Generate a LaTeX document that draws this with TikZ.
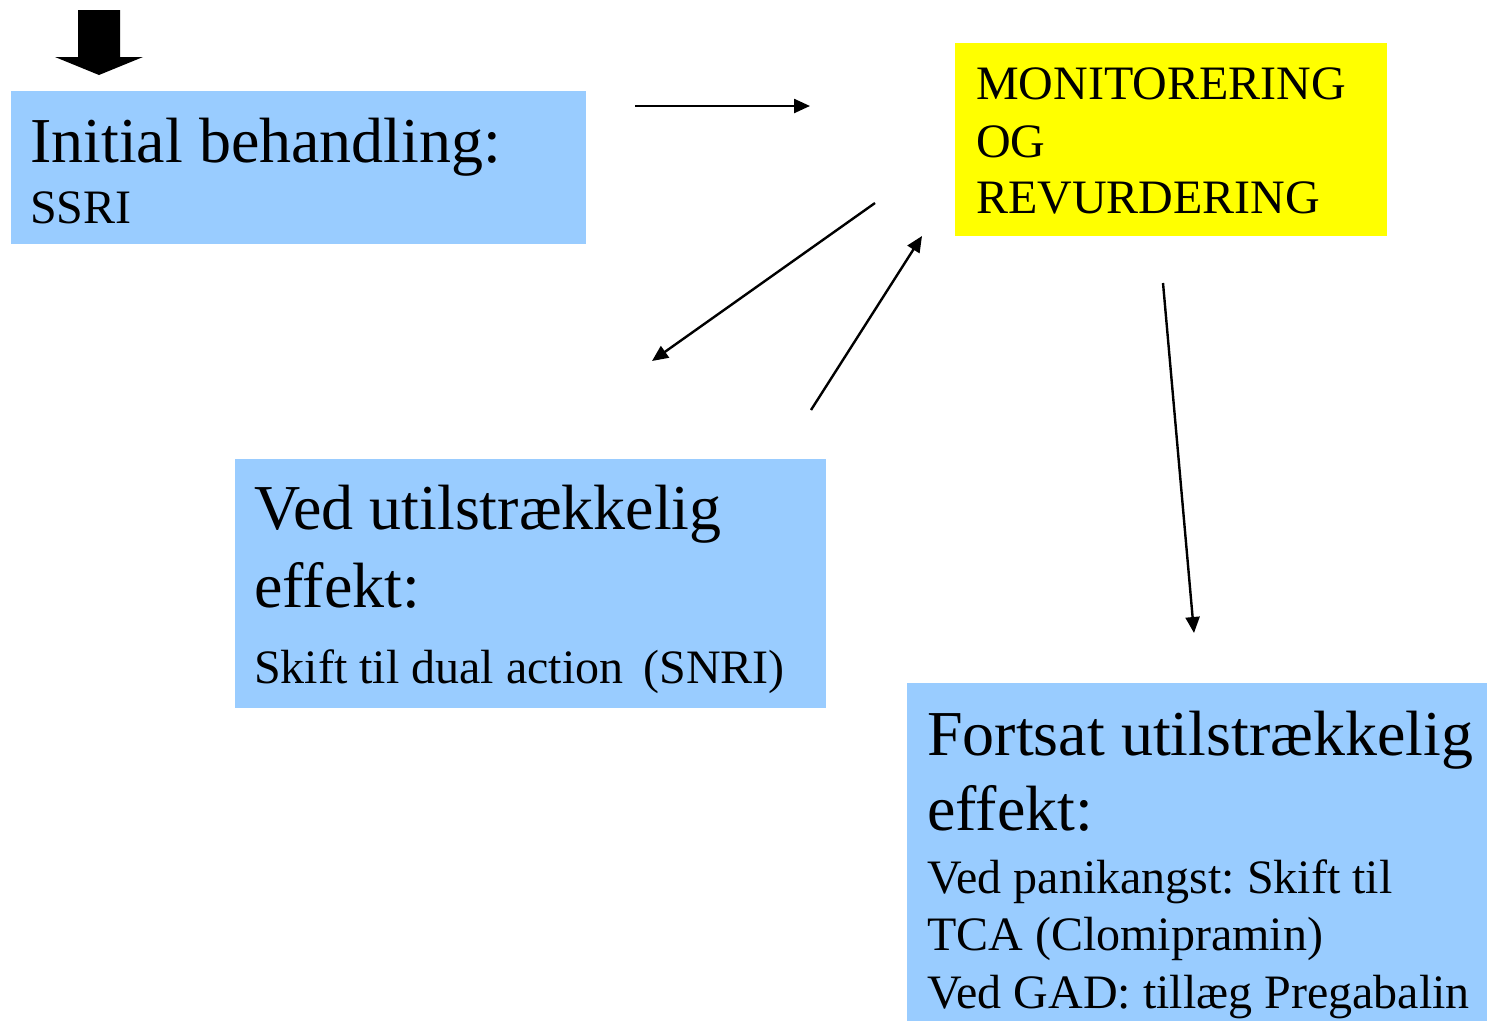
\documentclass[tikz,border=0pt]{standalone}
\usepackage{fontspec}
\setmainfont{Liberation Serif}
\usetikzlibrary{arrows.meta}
\definecolor{boxblue}{HTML}{99CCFF}
\definecolor{boxyellow}{HTML}{FFFF00}
\frenchspacing
\begin{document}
\begin{tikzpicture}[x=1pt,y=-1pt,
  panel/.style={fill=#1, draw=none, inner sep=0pt, anchor=north west},
  big/.style={anchor=base west, inner sep=0pt, font=\fontsize{64}{76}\selectfont},
  small/.style={anchor=base west, inner sep=0pt, font=\fontsize{48}{57}\selectfont},
  link/.style={line width=2.4pt, -{Triangle[length=16pt,width=14pt]}}]
\useasboundingbox (0,0) rectangle (1487,1021);

% entry arrow (block arrow)
\fill[black] (78,10) -- (120,10) -- (120,57) -- (143,57) -- (99,75) -- (55,57) -- (78,57) -- cycle;

% panels
\node[panel=boxblue, minimum width=575pt, minimum height=153pt] (initbox) at (11,91) {};
\node[panel=boxyellow, minimum width=432pt, minimum height=193pt] (monbox) at (955,43) {};
\node[panel=boxblue, minimum width=591pt, minimum height=249pt] (snribox) at (235,459) {};
\node[panel=boxblue, minimum width=580pt, minimum height=338pt] (tcabox) at (907,683) {};

% initial treatment
\node[big] (init1) at (30,162) {Initial behandling:};
\node[small] (init2) at (30,223) {SSRI};

% monitoring
\node[small] (mon1) at (976,99) {MONITORERING};
\node[small] (mon2) at (976,157) {OG};
\node[small] (mon3) at (976,213) {REVURDERING};

% second line
\node[big] (snri1) at (254,529) {Ved utilstrækkelig};
\node[big] (snri2) at (254,607) {effekt:};
\node[small] (snri3) at (254,683) {Skift til dual action\, (SNRI)};

% third line
\node[big] (tca1) at (927,755) {Fortsat utilstrækkelig};
\node[big] (tca2) at (927,830) {effekt:};
\node[small] (tca3) at (927,893) {Ved panikangst: Skift til};
\node[small] (tca4) at (927,950) {TCA (Clomipramin)};
\node[small] (tca5) at (927,1008) {Ved GAD: tillæg Pregabalin};

% connector ends
\coordinate (h1) at (635,106);
\coordinate (h2) at (810,106);
\coordinate (d1) at (875,203);
\coordinate (d2) at (652,361);
\coordinate (u1) at (811,410);
\coordinate (u2) at (922,236);
\coordinate (v1) at (1163,283);
\coordinate (v2) at (1194,633);

\draw[link] (h1) -- (h2);
\draw[link] (d1) -- (d2);
\draw[link] (u1) -- (u2);
\draw[link] (v1) -- (v2);
\end{tikzpicture}
\end{document}
